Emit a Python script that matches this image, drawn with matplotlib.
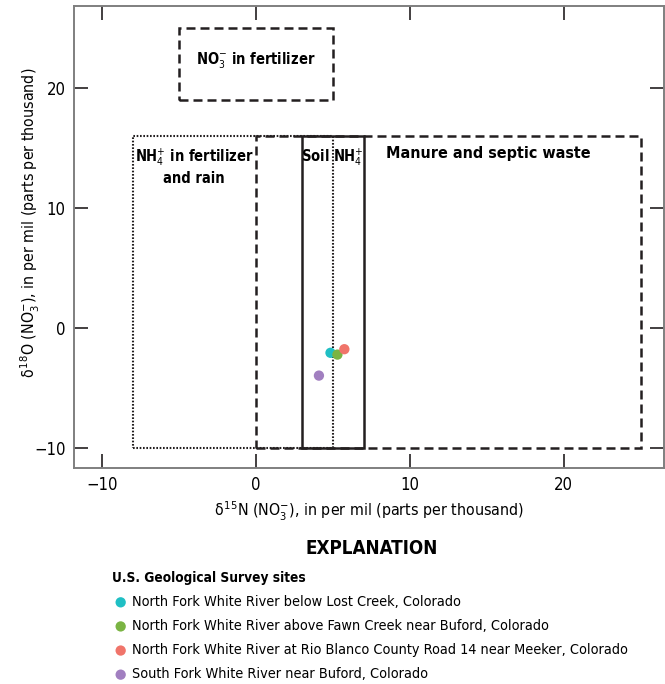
import matplotlib
matplotlib.use("Agg")
import matplotlib.pyplot as plt
from matplotlib.patches import Rectangle
from matplotlib import font_manager

# source ranges (d15N min, d15N max, d18O min, d18O max)
source_names = ["NO$_3^{-}$ in fertilizer", "NH$_4^{+}$ in fertilizer\nand rain",
                "Manure and septic waste", "Soil NH$_4^{+}$"]
n15_ranges = [(-5, 5), (-8, 5), (0, 25), (3, 7)]
o18_ranges = [(19, 25), (-10, 16), (-10, 16), (-10, 16)]

# USGS sites
sites = ["North Fork White River below Lost Creek, Colorado",
         "North Fork White River above Fawn Creek near Buford, Colorado",
         "North Fork White River at Rio Blanco County Road 14 near Meeker, Colorado",
         "South Fork White River near Buford, Colorado"]
d15n = [4.85, 5.3, 5.75, 4.1]
d18o = [-2.1, -2.25, -1.8, -4.0]
colores = ["#1fbfc4", "#7ab443", "#f0746a", "#a17fc0"]

# is there a condensed face installed?
tem_cond = any(('DejaVuSansCondensed' in f.fname) for f in font_manager.fontManager.ttflist)
if tem_cond:
    plt.rcParams['font.family'] = ['DejaVu Sans']
    plt.rcParams['font.stretch'] = 'condensed'
    fam = 'DejaVu Sans:stretch=condensed'
    esc = 1.0
else:
    plt.rcParams['font.family'] = ['Liberation Sans', 'DejaVu Sans']
    fam = 'Liberation Sans'
    esc = 0.95
plt.rcParams['mathtext.fontset'] = 'custom'
plt.rcParams['mathtext.rm'] = fam
plt.rcParams['mathtext.it'] = fam
plt.rcParams['mathtext.bf'] = fam + ':bold'

fig = plt.figure(figsize=(6.65, 6.84), dpi=100)
ax = fig.add_axes([74/665, 1-468/684, 590/665, 462/684])

estilos = [dict(ls=(0, (3.6, 2.0)), lw=1.8),
           dict(ls=(0, (0.8, 0.8)), lw=1.5),
           dict(ls=(0, (3.6, 2.0)), lw=1.8),
           dict(ls='-', lw=1.8)]
for (x0, x1), (y0, y1), est in zip(n15_ranges, o18_ranges, estilos):
    ax.add_patch(Rectangle((x0, y0), x1-x0, y1-y0, fill=False, ec='#231f20', **est))

# labels of the boxes
ax.text(0, 22.2, source_names[0], ha='center', va='center', fontsize=10.5*esc, fontweight='bold')
ax.text(-4, 15.1, source_names[1], ha='center', va='top', fontsize=10.5*esc, fontweight='bold')
ax.text(15.1, 15.1, source_names[2], ha='center', va='top', fontsize=11.5*esc, fontweight='bold')
ax.text(5, 15.1, source_names[3], ha='center', va='top', fontsize=10.5*esc, fontweight='bold')

handles = []
for i in range(len(sites)):
    h = ax.scatter(d15n[i], d18o[i], s=55, color=colores[i], edgecolors='none', zorder=5, label=sites[i])
    handles.append(h)

ax.set_xlim(-11.8, 26.5)
ax.set_ylim(-11.7, 26.8)
ax.set_xticks([-10, 0, 10, 20])
ax.set_yticks([-10, 0, 10, 20])
ax.set_xticklabels(['\u221210', '0', '10', '20'])
ax.set_yticklabels(['\u221210', '0', '10', '20'])
ax.tick_params(direction='in', length=10, width=1.2, color='#231f20', labelsize=12*esc,
               top=True, right=True, pad=6)
for s in ax.spines.values():
    s.set_color('#7f7f7f')
    s.set_linewidth(1.4)

ax.set_xlabel(r'$\delta^{15}$N (NO$_3^{-}$), in per mil (parts per thousand)', fontsize=11.4*esc, labelpad=4)
ax.set_ylabel(r'$\delta^{18}$O (NO$_3^{-}$), in per mil (parts per thousand)', fontsize=11.4*esc)
ax.yaxis.set_label_coords(-0.054, 0.53)

fig.text(372/665, 1-548/684, 'EXPLANATION', ha='center', va='center', fontsize=13.5*esc, fontweight='bold')
leg = fig.legend(handles=handles, loc='upper left', bbox_to_anchor=(112/665, 1-571/684),
                 frameon=False, fontsize=10.4*esc, title='U.S. Geological Survey sites',
                 title_fontproperties={'weight': 'bold', 'size': 9.8*esc}, alignment='left',
                 handletextpad=0.15, labelspacing=0.7, borderpad=0, borderaxespad=0,
                 handlelength=1.2, scatterpoints=1)

fig.savefig('out.png', dpi=100)
